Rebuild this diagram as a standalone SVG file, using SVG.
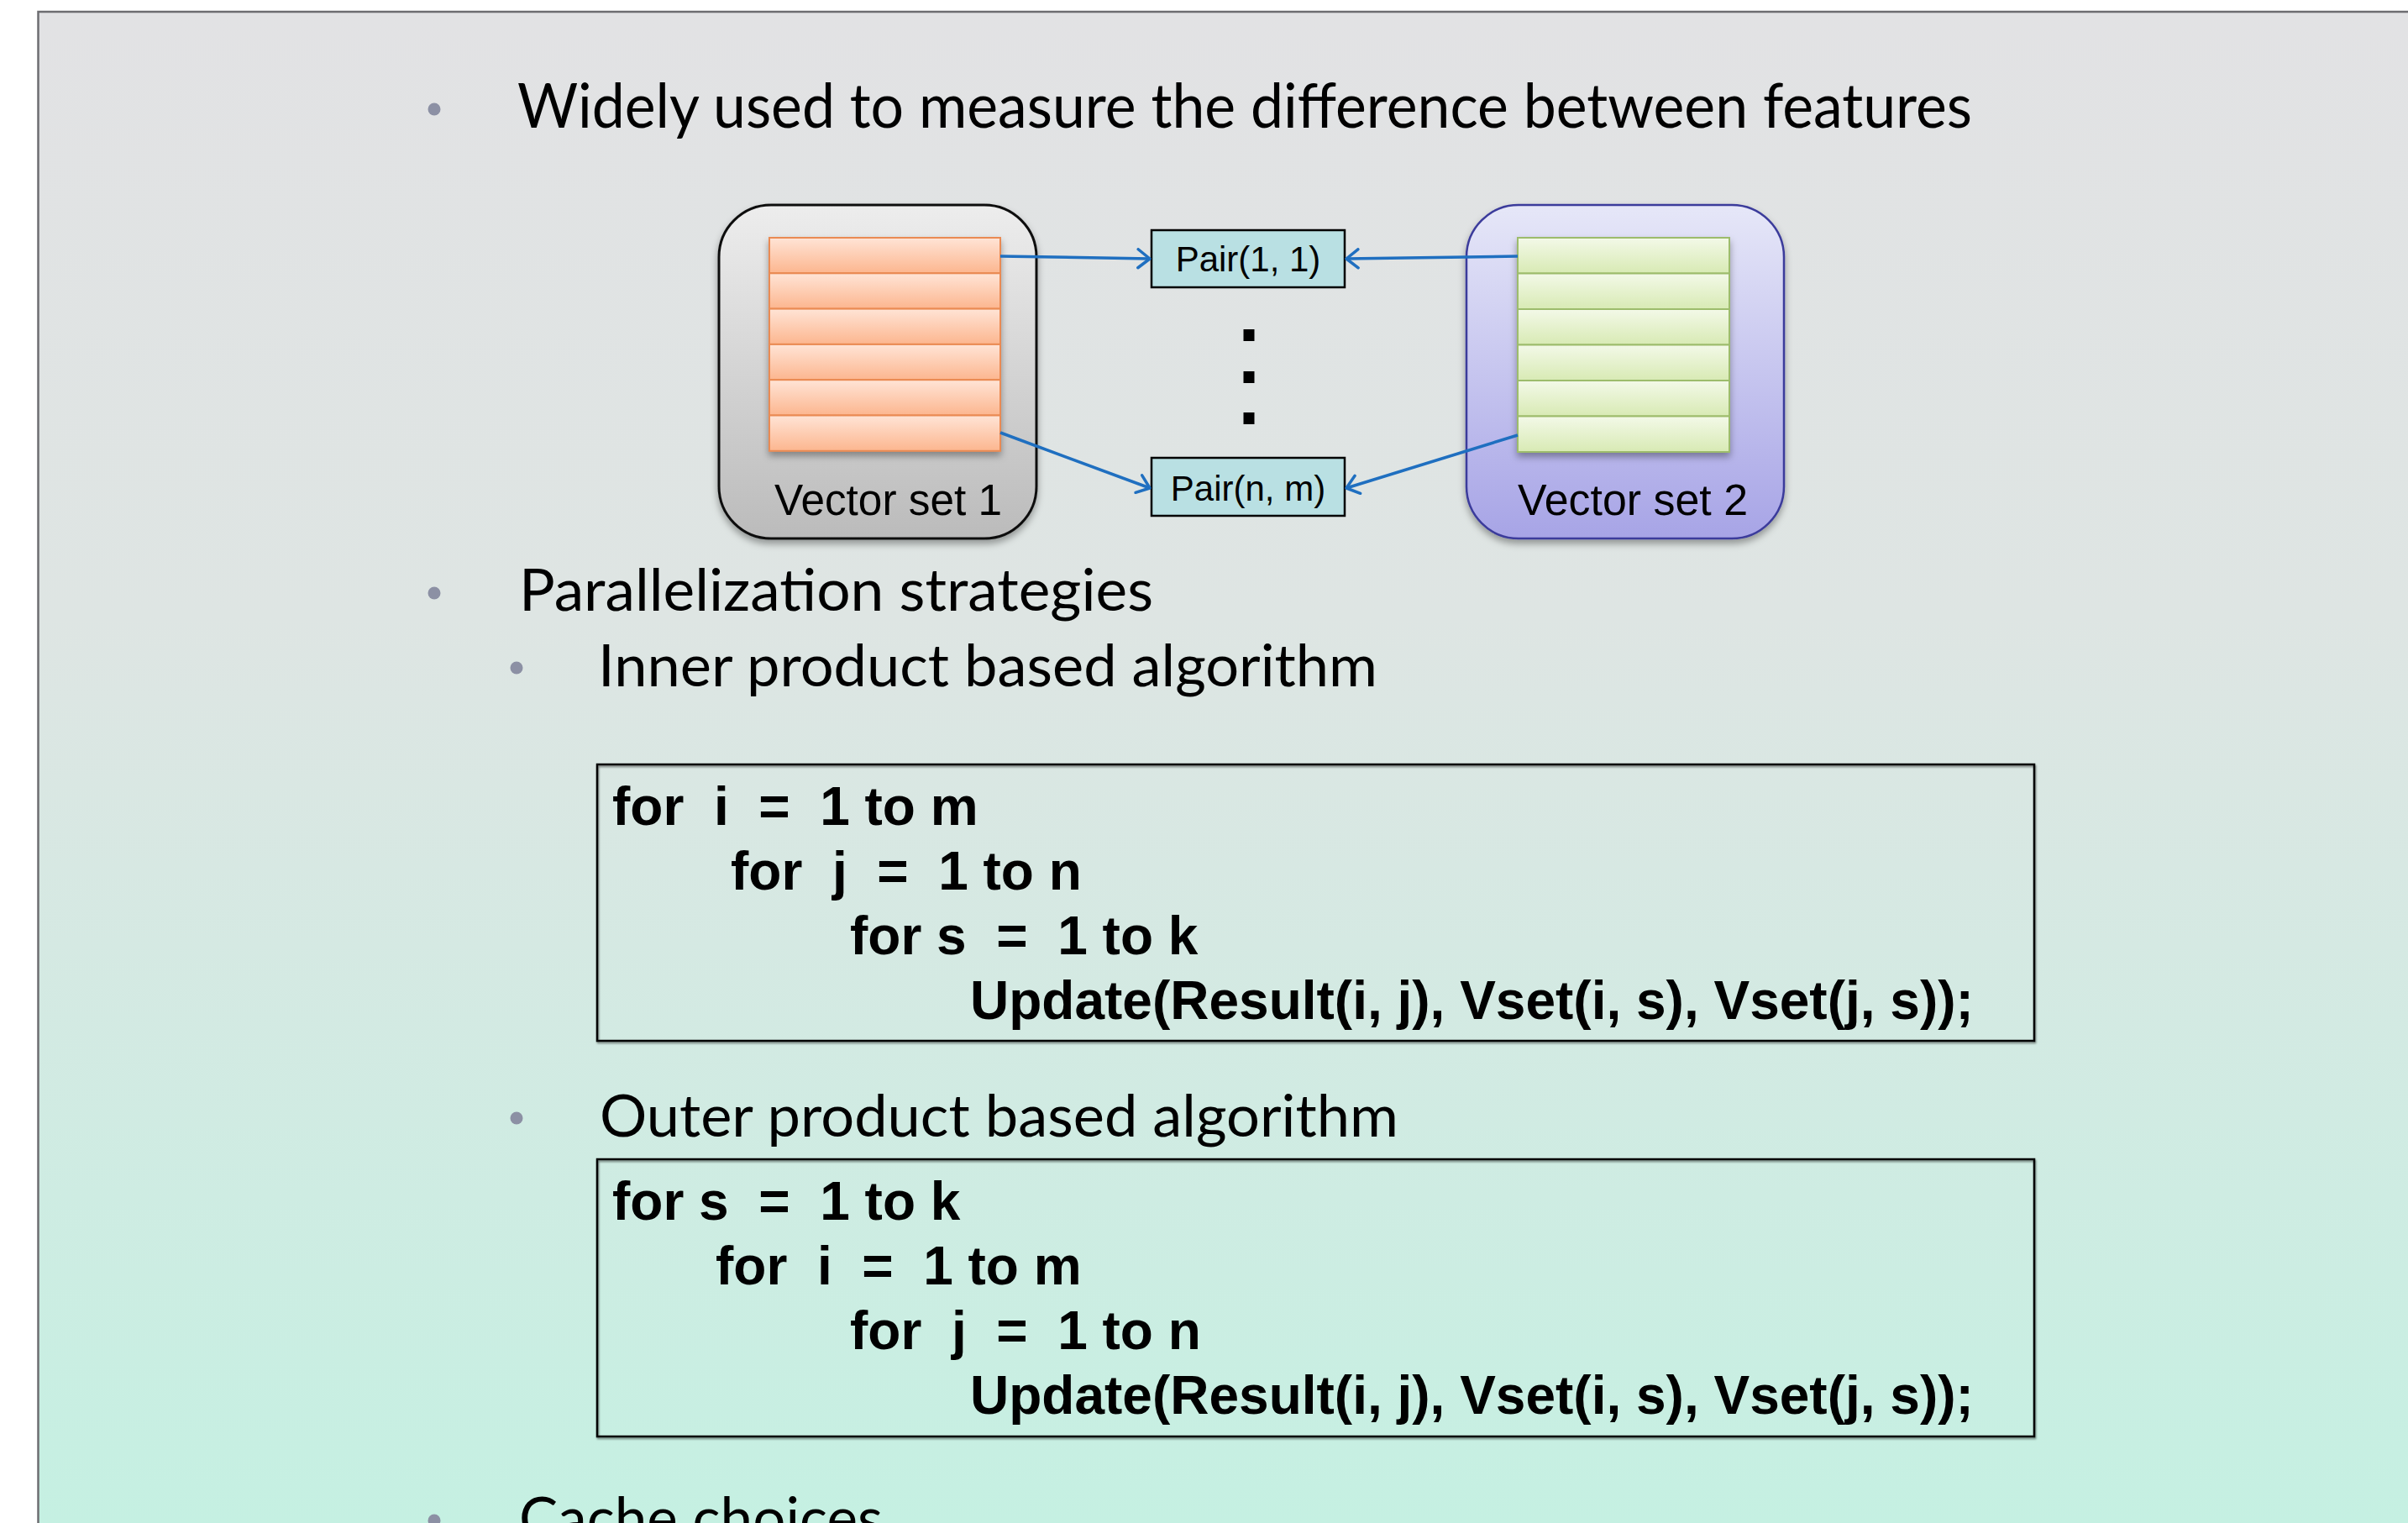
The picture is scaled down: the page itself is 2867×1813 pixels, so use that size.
<svg xmlns="http://www.w3.org/2000/svg" width="2867" height="1813" viewBox="0 0 2867 1813">
  <defs>
    <linearGradient id="slideBg" gradientUnits="userSpaceOnUse" x1="0" y1="14" x2="0" y2="1813">
      <stop offset="0" stop-color="#E2E2E4"/>
      <stop offset="0.4" stop-color="#DEE5E3"/>
      <stop offset="1" stop-color="#C5F0E2"/>
    </linearGradient>
    <linearGradient id="grayBox" x1="0" y1="0" x2="0" y2="1">
      <stop offset="0" stop-color="#EDEDED"/>
      <stop offset="1" stop-color="#BBBBBB"/>
    </linearGradient>
    <linearGradient id="violetBox" x1="0" y1="0" x2="0" y2="1">
      <stop offset="0" stop-color="#E6E7F8"/>
      <stop offset="1" stop-color="#A7A4E6"/>
    </linearGradient>
    <linearGradient id="orangeRow" x1="0" y1="0" x2="0" y2="1">
      <stop offset="0" stop-color="#FFE4D6"/>
      <stop offset="1" stop-color="#FCB68F"/>
    </linearGradient>
    <linearGradient id="greenRow" x1="0" y1="0" x2="0" y2="1">
      <stop offset="0" stop-color="#F3F9E8"/>
      <stop offset="1" stop-color="#D8EAB4"/>
    </linearGradient>
    <filter id="softShadow" x="-10%" y="-10%" width="120%" height="125%">
      <feDropShadow dx="0" dy="5" stdDeviation="4" flood-color="#000" flood-opacity="0.35"/>
    </filter>
    <filter id="boxShadow" x="-2%" y="-5%" width="104%" height="110%">
      <feDropShadow dx="1" dy="2" stdDeviation="1" flood-color="#000" flood-opacity="0.45"/>
    </filter>
    <marker id="openArrow" markerUnits="userSpaceOnUse" viewBox="0 0 20 26" markerWidth="20" markerHeight="26" refX="17" refY="13" orient="auto">
      <path d="M3,2 L17,13 L3,24" fill="none" stroke="#1F6FC0" stroke-width="3.5" stroke-linecap="round" stroke-linejoin="round"/>
    </marker>
    <style>
      .bullet { fill: #8C90A4; }
      .body { font-family: Lato, "Open Sans", "Noto Sans", sans-serif; fill: #000; }
      .code { font-family: "Liberation Sans", Arial, sans-serif; font-weight: bold; font-size: 64px; fill: #000; white-space: pre; }
      .codebox { fill: none; stroke: #000; stroke-width: 2.5; }
      .label { font-family: "Liberation Sans", Arial, sans-serif; fill: #000; }
      .orow { fill: url(#orangeRow); stroke: #EA8A52; stroke-width: 2; }
      .grow { fill: url(#greenRow); stroke: #9DBC6C; stroke-width: 2; }
      .pair { fill: #B9E0E3; stroke: #000; stroke-width: 2.5; }
      .link { fill: none; stroke: #1F6FC0; stroke-width: 3.5; marker-end: url(#openArrow); }
    </style>
  </defs>

  <!-- page and slide background -->
  <rect x="0" y="0" width="2867" height="1813" fill="#FFFFFF"/>
  <rect x="45.5" y="14" width="2900" height="1900" fill="url(#slideBg)" stroke="#6D6D71" stroke-width="2.5"/>

  <!-- first bullet -->
  <g id="bullet-measure">
    <circle class="bullet" cx="517" cy="130" r="7.5"/>
    <text class="body" x="616" y="151.5" font-size="74" textLength="1732" lengthAdjust="spacingAndGlyphs">Widely used to measure the difference between features</text>
  </g>

  <!-- vector set 1 -->
  <g id="vector-set-1">
    <rect x="856" y="244" width="378" height="397" rx="62" fill="url(#grayBox)" stroke="#111" stroke-width="3" filter="url(#softShadow)"/>
    <g filter="url(#softShadow)">
      <rect class="orow" x="916" y="283" width="275" height="42.3"/>
      <rect class="orow" x="916" y="325.3" width="275" height="42.3"/>
      <rect class="orow" x="916" y="367.6" width="275" height="42.3"/>
      <rect class="orow" x="916" y="409.9" width="275" height="42.3"/>
      <rect class="orow" x="916" y="452.2" width="275" height="42.3"/>
      <rect class="orow" x="916" y="494.5" width="275" height="42.3"/>
    </g>
    <text class="label" x="922" y="613" font-size="51" textLength="271" lengthAdjust="spacingAndGlyphs">Vector set 1</text>
  </g>

  <!-- vector set 2 -->
  <g id="vector-set-2">
    <rect x="1746" y="244" width="378" height="397" rx="62" fill="url(#violetBox)" stroke="#3B3B9B" stroke-width="2.5" filter="url(#softShadow)"/>
    <g filter="url(#softShadow)">
      <rect class="grow" x="1807" y="283" width="252" height="42.5"/>
      <rect class="grow" x="1807" y="325.5" width="252" height="42.5"/>
      <rect class="grow" x="1807" y="368" width="252" height="42.5"/>
      <rect class="grow" x="1807" y="410.5" width="252" height="42.5"/>
      <rect class="grow" x="1807" y="453" width="252" height="42.5"/>
      <rect class="grow" x="1807" y="495.5" width="252" height="42.5"/>
    </g>
    <text class="label" x="1807" y="613" font-size="51" textLength="274" lengthAdjust="spacingAndGlyphs">Vector set 2</text>
  </g>

  <!-- pair boxes -->
  <g id="pair-1-1">
    <rect class="pair" x="1371" y="274" width="230" height="68"/>
    <text class="label" x="1486" y="323" font-size="42" text-anchor="middle">Pair(1, 1)</text>
  </g>
  <g id="pair-n-m">
    <rect class="pair" x="1371" y="545" width="230" height="69"/>
    <text class="label" x="1486" y="596" font-size="42" text-anchor="middle">Pair(n, m)</text>
  </g>

  <!-- vertical ellipsis between the pairs -->
  <g id="ellipsis" fill="#000">
    <rect x="1480.5" y="392" width="13" height="14"/>
    <rect x="1480.5" y="442" width="13" height="14"/>
    <rect x="1480.5" y="491" width="13" height="14"/>
  </g>

  <!-- connectors -->
  <g id="connectors">
    <line class="link" x1="1191" y1="305" x2="1369" y2="308"/>
    <line class="link" x1="1807" y1="305" x2="1603" y2="308"/>
    <line class="link" x1="1191" y1="515" x2="1369" y2="581"/>
    <line class="link" x1="1807" y1="518" x2="1603" y2="581"/>
  </g>

  <!-- strategies -->
  <g id="bullet-strategies">
    <circle class="bullet" cx="517" cy="706" r="7.5"/>
    <text class="body" x="618" y="727" font-size="70" textLength="755" lengthAdjust="spacingAndGlyphs">Parallelization strategies</text>
  </g>

  <g id="bullet-inner">
    <circle class="bullet" cx="615" cy="795" r="7.5"/>
    <text class="body" x="712" y="816.5" font-size="70" textLength="928" lengthAdjust="spacingAndGlyphs">Inner product based algorithm</text>
  </g>

  <g id="code-inner">
    <rect class="codebox" x="711" y="910" width="1711" height="329" filter="url(#boxShadow)"/>
    <text class="code" x="729" y="982">for  i  =  1 to m</text>
    <text class="code" x="870" y="1059">for  j  =  1 to n</text>
    <text class="code" x="1012" y="1136">for s  =  1 to k</text>
    <text class="code" x="1155" y="1213">Update(Result(i, j), Vset(i, s), Vset(j, s));</text>
  </g>

  <g id="bullet-outer">
    <circle class="bullet" cx="615" cy="1331" r="7.5"/>
    <text class="body" x="714" y="1353" font-size="70" textLength="951" lengthAdjust="spacingAndGlyphs">Outer product based algorithm</text>
  </g>

  <g id="code-outer">
    <rect class="codebox" x="711" y="1380" width="1711" height="330" filter="url(#boxShadow)"/>
    <text class="code" x="729" y="1452">for s  =  1 to k</text>
    <text class="code" x="852" y="1529">for  i  =  1 to m</text>
    <text class="code" x="1012" y="1606">for  j  =  1 to n</text>
    <text class="code" x="1155" y="1683">Update(Result(i, j), Vset(i, s), Vset(j, s));</text>
  </g>

  <g id="bullet-cache">
    <circle class="bullet" cx="517" cy="1810" r="7.5"/>
    <text class="body" x="618" y="1832" font-size="70" textLength="433" lengthAdjust="spacingAndGlyphs">Cache choices</text>
  </g>
</svg>
